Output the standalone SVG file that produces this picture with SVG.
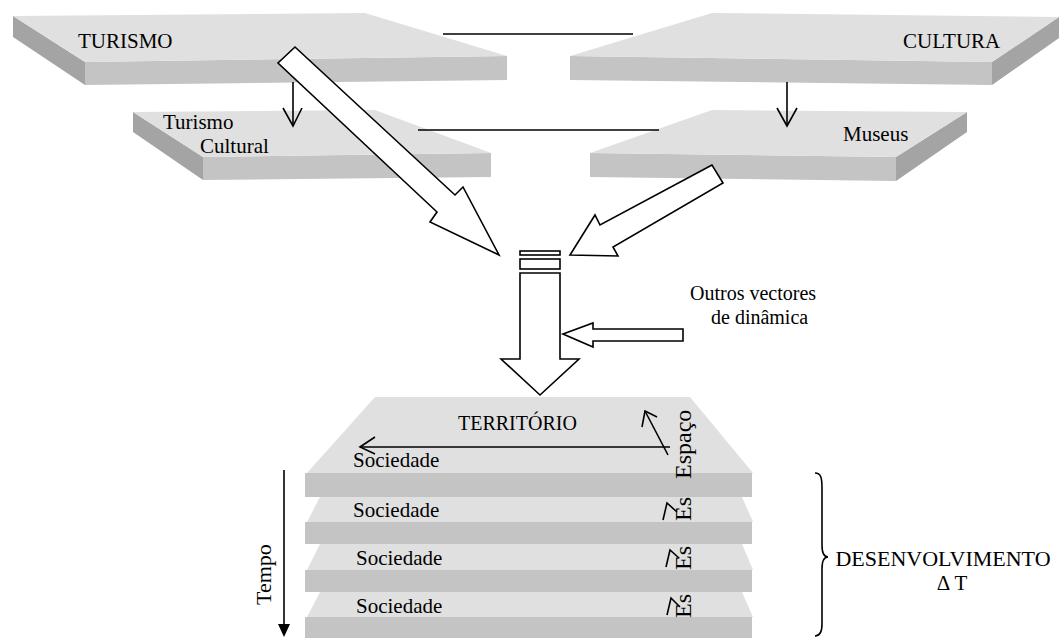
<svg xmlns="http://www.w3.org/2000/svg" width="1059" height="638" viewBox="0 0 1059 638">
  <style>
    .top { fill: #e0e0e0; }
    .front { fill: #c4c4c4; }
    .side { fill: #a4a4a4; }
    .lbl { font-family: "Liberation Serif", "Times New Roman", serif; font-size: 21px; fill: #000; }
    .f20 { font-size: 20px; }
    .f22 { font-size: 22px; }
    .f24 { font-size: 24px; }
    .mid { text-anchor: middle; }
    .ln { stroke: #000; stroke-width: 1.6; fill: none; }
    .hollow { fill: #fff; stroke: #000; stroke-width: 1.6; stroke-linejoin: miter; }
    .solid { fill: #000; stroke: none; }
  </style>

  <rect width="1059" height="638" fill="#fff"/>

  <!-- upper slabs -->
  <g id="turismo">
    <polygon class="side" points="13,16 13,37 85,85 85,62"/>
    <polygon class="front" points="85,62 507,56 507,80 85,85"/>
    <polygon class="top" points="13,16 365,13 507,56 85,62"/>
    <text class="lbl" x="78" y="48">TURISMO</text>
  </g>

  <g id="cultura">
    <polygon class="side" points="1059,17 1059,38 992,85 992,62"/>
    <polygon class="front" points="570,56 992,62 992,85 570,80"/>
    <polygon class="top" points="712,13 1059,17 992,62 570,56"/>
    <text class="lbl" x="903" y="48">CULTURA</text>
  </g>

  <g id="turismo-cultural">
    <polygon class="side" points="133,112 133,132 203,180 203,157"/>
    <polygon class="front" points="203,157 491,153 491,177 203,180"/>
    <polygon class="top" points="133,112 375,110 491,153 203,157"/>
    <text class="lbl" x="163" y="129">Turismo</text>
    <text class="lbl" x="200" y="153">Cultural</text>
  </g>

  <g id="museus">
    <polygon class="side" points="967,112 967,132 896,181 896,157"/>
    <polygon class="front" points="590,153 896,157 896,181 590,177"/>
    <polygon class="top" points="712,110 967,112 896,157 590,153"/>
    <text class="lbl" x="843" y="141">Museus</text>
  </g>

  <!-- territory stack -->
  <g id="territorio">
    <polygon class="top" points="320,592 742,592 753,617 307,617"/>
    <rect class="front" x="305" y="617" width="447" height="23"/>
    <polygon class="top" points="320,544 742,544 753,570 307,570"/>
    <rect class="front" x="305" y="570" width="447" height="22"/>
    <polygon class="top" points="320,497 742,497 753,522 307,522"/>
    <rect class="front" x="305" y="522" width="447" height="22"/>
    <polygon class="top" points="375,397 690,397 753,473 307,473"/>
    <rect class="front" x="305" y="473" width="447" height="24"/>

    <text class="lbl f20" x="458" y="430">TERRITÓRIO</text>
    <text class="lbl" x="353" y="467">Sociedade</text>
    <text class="lbl" x="353" y="517">Sociedade</text>
    <text class="lbl" x="356" y="565">Sociedade</text>
    <text class="lbl" x="356" y="613">Sociedade</text>

    <text class="lbl f24" transform="translate(691,479) rotate(-90)">Espaço</text>
    <text class="lbl f24" transform="translate(691,521) rotate(-90)">Es</text>
    <text class="lbl f24" transform="translate(691,570) rotate(-90)">Es</text>
    <text class="lbl f24" transform="translate(691,618) rotate(-90)">Es</text>

    <line class="ln" x1="670" y1="447" x2="360" y2="447"/>
    <polyline class="ln" points="375,437 360,447 375,454"/>
    <line class="ln" x1="668" y1="455" x2="645" y2="411"/>
    <polyline class="ln" points="642,427 645,411 657,417"/>
    <polyline class="ln" points="663,520 667,503 677,512"/>
    <polyline class="ln" points="666,567 670,550 679,558"/>
    <polyline class="ln" points="667,615 671,598 680,607"/>
  </g>

  <g id="tempo">
    <line class="ln" x1="284" y1="470" x2="284" y2="626"/>
    <polygon class="solid" points="278,624 290,624 284,637"/>
    <text class="lbl f22" transform="translate(271,605) rotate(-90)">Tempo</text>
  </g>

  <g id="desenvolvimento">
    <path class="ln" d="M815,473 C821,473 822,478 822,488 L822,545 C822,553 824,557 828,557 C824,557 822,561 822,569 L822,624 C822,632 820,636 815,636"/>
    <text class="lbl f22 mid" x="943" y="566">DESENVOLVIMENTO</text>
    <text class="lbl mid" x="952" y="590">Δ T</text>
  </g>

  <g id="outros">
    <text class="lbl f20" x="690" y="300">Outros vectores</text>
    <text class="lbl f20" x="711" y="324">de dinâmica</text>
  </g>

  <!-- connectors -->
  <g id="connectors">
    <line class="ln" x1="443" y1="34" x2="633" y2="34"/>
    <line class="ln" x1="418" y1="130" x2="659" y2="130"/>

    <line class="ln" x1="293" y1="82" x2="293" y2="126"/>
    <polyline class="ln" points="283,108 293,126 302,108"/>
    <line class="ln" x1="787" y1="82" x2="787" y2="126"/>
    <polyline class="ln" points="777,108 787,126 797,108"/>

    <polygon class="hollow" points="295,47 455,195 463,187 499,255 430,222 437,212 278,63"/>
    <polygon class="hollow" points="712,165 600,225 595,215 570,255 618,256 613,247 723,183"/>

    <rect class="hollow" x="520" y="251" width="40" height="4"/>
    <rect class="hollow" x="520" y="259" width="40" height="10"/>
    <polygon class="hollow" points="520,273 560,273 560,359 579,359 540,395 501,359 520,359"/>

    <polygon class="hollow" points="563,334 593,323 593,329 683,329 683,341 593,341 593,347"/>
  </g>
</svg>
